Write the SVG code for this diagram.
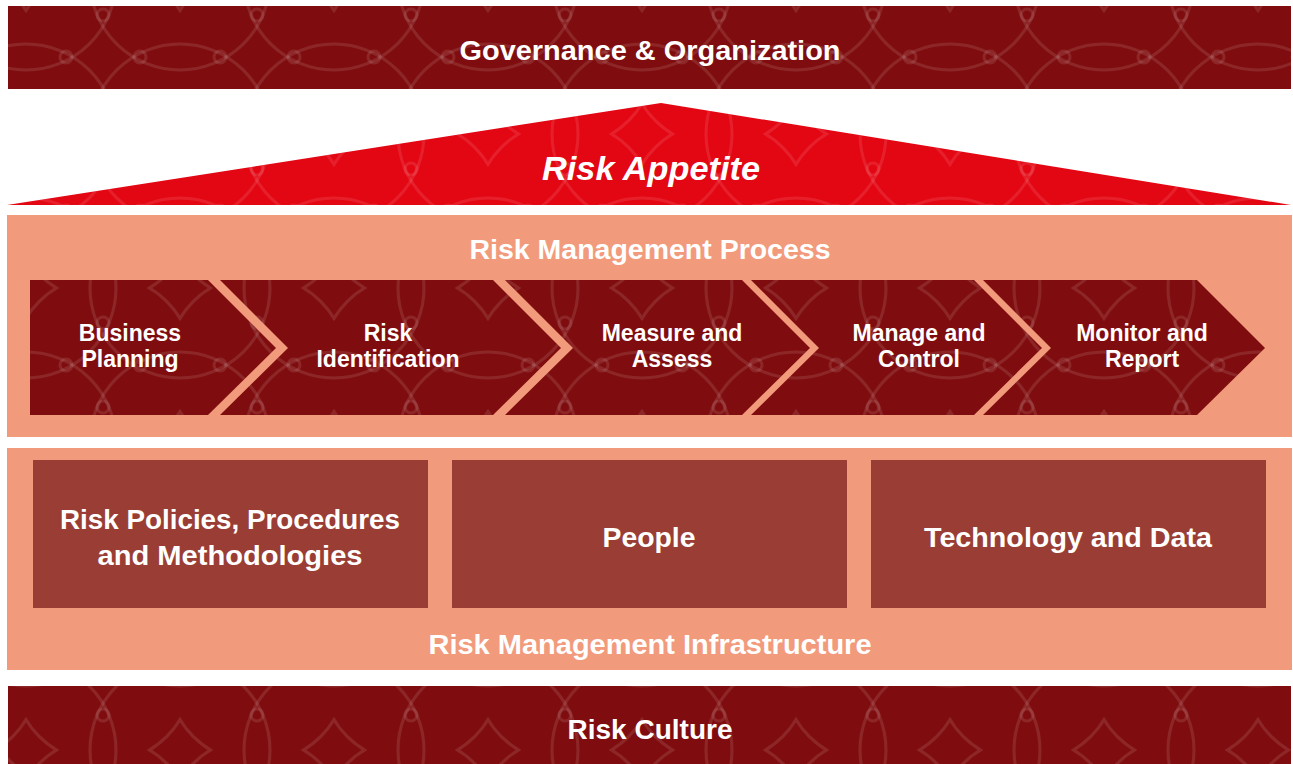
<svg xmlns="http://www.w3.org/2000/svg" width="1293" height="764" viewBox="0 0 1293 764">
<defs>
<pattern id="pat" width="154" height="154" patternUnits="userSpaceOnUse" x="26" y="-20">
<g fill="none" stroke="#ffffff" stroke-opacity="0.1" stroke-width="3">
<circle cx="0" cy="0" r="90"/><circle cx="154" cy="0" r="90"/><circle cx="0" cy="154" r="90"/><circle cx="154" cy="154" r="90"/>
<circle cx="77" cy="77" r="90"/>
<circle cx="40" cy="77" r="6"/><circle cx="114" cy="77" r="6"/><circle cx="77" cy="35" r="6"/><circle cx="77" cy="119" r="6"/>
</g>
</pattern>
</defs>
<style>
.t{font-family:"Liberation Sans",Arial,sans-serif;font-weight:bold;fill:#ffffff;text-anchor:middle}
.c{font-size:23px}
.dark{fill:#7f0d0f}
.salmon{fill:#f29a7c}
.box{fill:#993d35}
</style>
<g id="governance">
<rect class="dark" x="8" y="6" width="1283" height="83"/>
<rect fill="url(#pat)" x="8" y="6" width="1283" height="83"/>
<text class="t" x="650" y="60" font-size="27" textLength="381" lengthAdjust="spacingAndGlyphs">Governance &amp; Organization</text>
</g>
<g id="appetite">
<polygon points="661,103 1291,205 7,205" fill="#e30613"/>
<polygon points="661,103 1291,205 7,205" fill="url(#pat)"/>
<text class="t" x="651" y="180" font-size="34" font-style="italic" textLength="218" lengthAdjust="spacingAndGlyphs">Risk Appetite</text>
</g>
<g id="process">
<rect class="salmon" x="7" y="215" width="1285" height="222"/>
<text class="t" x="650" y="259" font-size="27" textLength="361" lengthAdjust="spacingAndGlyphs">Risk Management Process</text>
</g>
<g id="business-planning">
<polygon class="dark" points="30,280 208,280 276,348 208,415 30,415"/>
<polygon fill="url(#pat)" points="30,280 208,280 276,348 208,415 30,415"/>
<text class="t c"><tspan x="130" y="341">Business</tspan><tspan x="130" y="367">Planning</tspan></text>
</g>
<g id="risk-identification">
<polygon class="dark" points="220,280 493,280 561,348 493,415 220,415 288,348"/>
<polygon fill="url(#pat)" points="220,280 493,280 561,348 493,415 220,415 288,348"/>
<text class="t c"><tspan x="388" y="341">Risk</tspan><tspan x="388" y="367">Identification</tspan></text>
</g>
<g id="measure-assess">
<polygon class="dark" points="505,280 742,280 810,348 742,415 505,415 573,348"/>
<polygon fill="url(#pat)" points="505,280 742,280 810,348 742,415 505,415 573,348"/>
<text class="t c"><tspan x="672" y="341">Measure and</tspan><tspan x="672" y="367">Assess</tspan></text>
</g>
<g id="manage-control">
<polygon class="dark" points="751,280 974,280 1042,348 974,415 751,415 819,348"/>
<polygon fill="url(#pat)" points="751,280 974,280 1042,348 974,415 751,415 819,348"/>
<text class="t c"><tspan x="919" y="341">Manage and</tspan><tspan x="919" y="367">Control</tspan></text>
</g>
<g id="monitor-report">
<polygon class="dark" points="983,280 1197,280 1265,348 1197,415 983,415 1051,348"/>
<polygon fill="url(#pat)" points="983,280 1197,280 1265,348 1197,415 983,415 1051,348"/>
<text class="t c"><tspan x="1142" y="341">Monitor and</tspan><tspan x="1142" y="367">Report</tspan></text>
</g>
<g id="infrastructure">
<rect class="salmon" x="7" y="448" width="1285" height="222"/>
<text class="t" x="650" y="654" font-size="27" textLength="443" lengthAdjust="spacingAndGlyphs">Risk Management Infrastructure</text>
</g>
<g id="policies">
<rect class="box" x="33" y="460" width="395" height="148"/>
<text class="t" font-size="28"><tspan x="230" y="529" textLength="340" lengthAdjust="spacingAndGlyphs">Risk Policies, Procedures</tspan><tspan x="230" y="565" textLength="265" lengthAdjust="spacingAndGlyphs">and Methodologies</tspan></text>
</g>
<g id="people">
<rect class="box" x="452" y="460" width="395" height="148"/>
<text class="t" x="649" y="547" font-size="28" textLength="93" lengthAdjust="spacingAndGlyphs">People</text>
</g>
<g id="technology">
<rect class="box" x="871" y="460" width="395" height="148"/>
<text class="t" x="1068" y="547" font-size="28" textLength="288" lengthAdjust="spacingAndGlyphs">Technology and Data</text>
</g>
<g id="culture">
<rect class="dark" x="8" y="686" width="1283" height="78"/>
<rect fill="url(#pat)" x="8" y="686" width="1283" height="78"/>
<text class="t" x="650" y="739" font-size="27" textLength="165" lengthAdjust="spacingAndGlyphs">Risk Culture</text>
</g>
<g id="connectors"/>
</svg>
